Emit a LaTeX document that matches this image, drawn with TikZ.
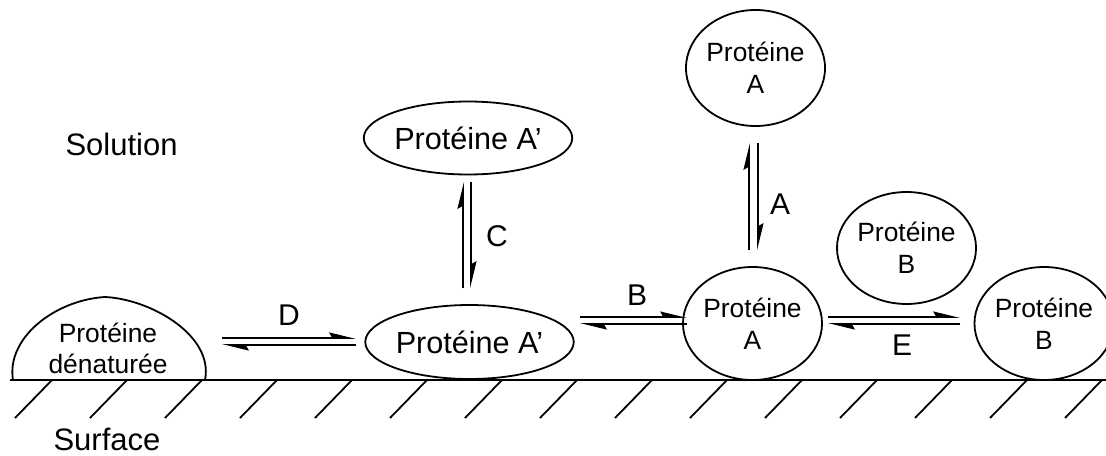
\documentclass[tikz,border=0pt]{standalone}
\usepackage{fontspec}
\setmainfont{Liberation Sans}
\usetikzlibrary{shapes.geometric,arrows.meta}
\begin{document}
\begin{tikzpicture}[x=0.5pt,y=-0.5pt,
  line width=0.9pt,
  prot/.style={draw,ellipse,inner sep=0pt,align=center,
    font=\fontsize{13.2pt}{16pt}\selectfont},
  protbig/.style={draw,ellipse,inner sep=0pt,
    font=\fontsize{15.3pt}{18pt}\selectfont},
  biglabel/.style={anchor=base west,font=\fontsize{15.5pt}{18pt}\selectfont},
  letter/.style={anchor=base,font=\fontsize{15pt}{17pt}\selectfont},
  harp/.style={-{Stealth[left,length=11.5pt,width=5.5pt,inset=1.5pt]}},
  hatch/.style={line width=0.9pt}
]
\useasboundingbox (0,0) rectangle (1106,455);

% surface
\coordinate (s0) at (10,380);
\coordinate (s1) at (1106,380);
\draw[line width=1.1pt] (s0) -- (s1);
\foreach \k in {0,...,14}{
  \draw[hatch] ({52+75*\k},380) -- ({15+75*\k},418);
}

% labels
\node[biglabel] (sol) at (58,155) {Solution};
\node[biglabel] (surf) at (46,450) {Surface};

% denatured protein (dome)
\draw (13,380) .. controls (6,338) and (55,300) .. (105,297)
      .. controls (150,299) and (214,335) .. (205,380);
\node[align=center,font=\fontsize{13.2pt}{15.5pt}\selectfont] (den) at (108,348)
  {Protéine\\dénaturée};

% proteins
\node[protbig,minimum width=100.5pt,minimum height=37pt] (apS) at (469.5,342) {Protéine A’};
\node[protbig,minimum width=100pt,minimum height=36.5pt] (apT) at (468,138) {Protéine A’};
\node[prot,minimum width=63.5pt,minimum height=58pt] (aT) at (755.5,68) {Protéine\\A};
\node[prot,minimum width=65.5pt,minimum height=56.5pt] (aS) at (752.5,323.5) {Protéine\\A};
\node[prot,minimum width=64.5pt,minimum height=56pt] (bF) at (906.5,248) {Protéine\\B};
\node[prot,minimum width=61pt,minimum height=56.5pt] (bS) at (1044,323.5) {Protéine\\B};

% arrow end points
\coordinate (d1) at (222,338); \coordinate (d2) at (356,338);
\coordinate (d3) at (356,345); \coordinate (d4) at (222,345);
\coordinate (b1) at (580,317); \coordinate (b2) at (687,317);
\coordinate (b3) at (687,324); \coordinate (b4) at (580,324);
\coordinate (e1) at (828,317); \coordinate (e2) at (960,317);
\coordinate (e3) at (960,324); \coordinate (e4) at (828,324);
\coordinate (c1) at (463,288); \coordinate (c2) at (463,182);
\coordinate (c3) at (471,182); \coordinate (c4) at (471,288);
\coordinate (a1) at (749,250); \coordinate (a2) at (749,143);
\coordinate (a3) at (758,143); \coordinate (a4) at (758,250);

\draw[harp] (d1) -- (d2); \draw[harp] (d3) -- (d4);
\draw[harp] (b1) -- (b2); \draw[harp] (b3) -- (b4);
\draw[harp] (e1) -- (e2); \draw[harp] (e3) -- (e4);
\draw[harp] (c1) -- (c2); \draw[harp] (c3) -- (c4);
\draw[harp] (a1) -- (a2); \draw[harp] (a3) -- (a4);

\node[letter] (lD) at (289,325) {D};
\node[letter] (lB) at (637,305) {B};
\node[letter] (lC) at (497,246) {C};
\node[letter] (lA) at (780,214) {A};
\node[letter] (lE) at (902,355) {E};
\end{tikzpicture}
\end{document}
